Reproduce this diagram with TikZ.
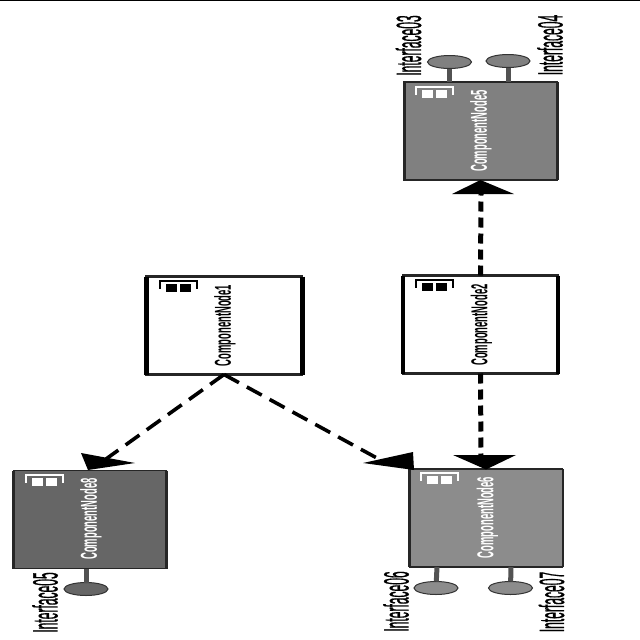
\documentclass[tikz,border=0pt]{standalone}
\usepackage{fontspec}
\usepackage{graphicx}
\setmainfont{Liberation Sans}
\newcommand{\cname}[1]{\scalebox{.41}[1]{\fontsize{23}{23}\bfseries\selectfont #1}}
\newcommand{\iname}[1]{\scalebox{.345}[1]{\fontsize{35}{35}\selectfont\addfontfeature{FakeBold=1} #1}}
\tikzset{
  x=1pt,y=-1pt,
  comp/.style={draw=black!85,line width=1.5pt,minimum width=153pt,minimum height=98pt,inner sep=0pt,outer sep=0pt},
  side/.style={draw=black!85,line width=#1},
  side/.default=3pt,
  ctext/.style={rotate=90,inner sep=0pt,text=#1},
  itext/.style={rotate=90,inner sep=0pt,text=black},
  stem/.style={draw=black!68,line width=5pt},
  lolli/.style={ellipse,draw=black!80,line width=1pt,fill=#1,minimum width=44pt,minimum height=13pt,inner sep=0pt,outer sep=0pt},
  thindash/.style={draw=black,line width=3.6pt,dash pattern=on 17pt off 9pt},
  thickdash/.style={draw=black,line width=5pt,dash pattern=on 10pt off 6pt},
  head/.style={fill=black,draw=none},
  bracket/.style={draw=#1,line width=2pt},
  cell/.style={fill=#1,draw=none},
}
\usetikzlibrary{shapes.geometric}
\newcommand{\icon}[3]{% x, y of bracket top-left, colour
  \draw[bracket=#3] (#1,#2+7.5) -- (#1,#2) -- (#1+37,#2) -- (#1+37,#2+7.5);
  \fill[cell=#3] (#1+6,#2+2.5) rectangle (#1+17,#2+11);
  \fill[cell=#3] (#1+20,#2+2.5) rectangle (#1+31,#2+11);
}
\begin{document}
\begin{tikzpicture}
\useasboundingbox (0,0) rectangle (640,640);
\fill[white] (0,0) rectangle (640,640);
\draw[black,line width=1.5pt] (0,0.7) -- (640,0.7);

% stems and lollipops
\node[lolli=black!50] (l3) at (449.5,62) {};
\node[lolli=black!50] (l4) at (508,61) {};
\node[lolli=black!60] (l5) at (86,589) {};
\node[lolli=black!45] (l6) at (436,588) {};
\node[lolli=black!45] (l7) at (510.5,588) {};

% components
\node[comp,fill=black!50] (n5) at (480.5,131) {};
\node[comp,fill=white,line width=2.5pt,minimum width=156pt] (n1) at (224,325.5) {};
\node[comp,fill=white,line width=2.5pt,minimum width=155pt] (n2) at (480.5,324.5) {};
\node[comp,fill=black!60] (n8) at (90,519.5) {};
\node[comp,fill=black!45] (n6) at (486,518) {};

\coordinate (s3) at (449.5,82);
\coordinate (s4) at (508,82);
\coordinate (s5) at (86,569);
\coordinate (s6) at (437,567);
\coordinate (s7) at (511,567);
\draw[stem] (s3) -- (l3);
\draw[stem] (s4) -- (l4);
\draw[stem] (s5) -- (l5);
\draw[stem] (s6) -- (l6);
\draw[stem] (s7) -- (l7);

\draw[side] (n5.north west) -- (n5.south west);
\draw[side] (n5.north east) -- (n5.south east);
\draw[side] (n8.north west) -- (n8.south west);
\draw[side] (n8.north east) -- (n8.south east);
\draw[side] (n6.north west) -- (n6.south west);
\draw[side=2pt] (n6.north east) -- (n6.south east);
\draw[side=5pt,black] (n1.north west) -- (n1.south west);
\draw[side=5pt,black] (n1.north east) -- (n1.south east);
\draw[side=4pt,black] (n2.north west) -- (n2.south west);
\draw[side=4pt,black] (n2.north east) -- (n2.south east);

% icons
\icon{416}{87}{white}
\icon{160}{281}{black}
\icon{416}{280}{black}
\icon{26}{475}{white}
\icon{421}{473}{white}

% connectors
\coordinate (t8) at (106,459);
\coordinate (t6) at (386,463);
\coordinate (t6b) at (481,456);
\coordinate (t5) at (481,194);
\draw[thindash] (n1.south) -- (t8);
\draw[thindash] (n1.south) -- (t6);
\draw[thickdash] (n2.south) -- (t6b);
\draw[thickdash] (n2.north) -- (t5);
\fill[head] (81,453) -- (135,463) -- (88,470) -- cycle;
\fill[head] (413,452) -- (414,470) -- (363,463) -- cycle;
\fill[head] (453,455) -- (516,455) -- (486,469.5) -- cycle;
\fill[head] (452,194) -- (514,194) -- (480.5,180) -- cycle;

% component labels
\node[ctext=white] (c5) at (481,131) {\cname{ComponentNode5}};
\node[ctext=black] (c1) at (225,325.5) {\cname{ComponentNode1}};
\node[ctext=black] (c2) at (481.5,325) {\cname{ComponentNode2}};
\node[ctext=white] (c8) at (91,519) {\cname{ComponentNode8}};
\node[ctext=white] (c6) at (487.5,517.5) {\cname{ComponentNode6}};

% interface labels
\node[itext] (i3) at (408.5,45.5) {\iname{Interface03}};
\node[itext] (i4) at (550,45) {\iname{Interface04}};
\node[itext] (i5) at (45,602.5) {\iname{Interface05}};
\node[itext] (i6) at (396,601.5) {\iname{Interface06}};
\node[itext] (i7) at (551.5,602) {\iname{Interface07}};
\end{tikzpicture}
\end{document}
